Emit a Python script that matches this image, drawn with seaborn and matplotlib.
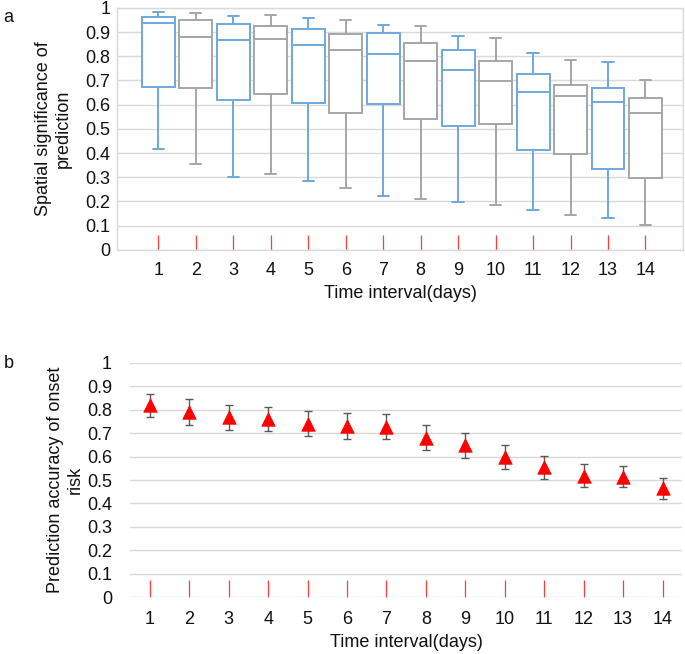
import numpy as np
import pandas as pd
import matplotlib
matplotlib.use("Agg")
import matplotlib.pyplot as plt
import seaborn as sns

sns.set_theme(style="white")
plt.rcParams['font.family'] = ['Liberation Sans', 'DejaVu Sans']
plt.rcParams['text.color'] = '#111111'
plt.rcParams['axes.labelcolor'] = '#111111'
plt.rcParams['xtick.labelcolor'] = '#111111'
plt.rcParams['ytick.labelcolor'] = '#111111'

# ===================== data =====================
days = [str(d) for d in range(1, 15)]

# panel a: five-number summaries per interval (whisker low, Q1, median, Q3, whisker high)
low_a = [0.418, 0.356, 0.300, 0.312, 0.284, 0.256, 0.223, 0.208, 0.196, 0.184, 0.163, 0.144, 0.130, 0.103]
q1_a = [0.674, 0.667, 0.619, 0.642, 0.607, 0.566, 0.601, 0.542, 0.510, 0.522, 0.414, 0.397, 0.332, 0.295]
med_a = [0.936, 0.881, 0.867, 0.873, 0.848, 0.827, 0.808, 0.779, 0.744, 0.697, 0.652, 0.634, 0.610, 0.566]
q3_a = [0.962, 0.949, 0.932, 0.925, 0.911, 0.893, 0.895, 0.855, 0.826, 0.782, 0.726, 0.682, 0.670, 0.626]
high_a = [0.984, 0.979, 0.968, 0.971, 0.956, 0.951, 0.929, 0.925, 0.885, 0.877, 0.815, 0.784, 0.775, 0.701]

# panel b: mean accuracy and error
mean_b = [0.820, 0.790, 0.768, 0.762, 0.741, 0.731, 0.728, 0.681, 0.648, 0.598, 0.555, 0.519, 0.515, 0.465]
err_b = [0.049, 0.054, 0.054, 0.052, 0.053, 0.054, 0.052, 0.052, 0.052, 0.052, 0.049, 0.048, 0.046, 0.045]

BLUE = '#6fa8dc'
GREY = '#a6a6a6'
GRID = '#d9d9d9'
TICK_RED = '#ff3b3b'
FS = 13

# long-form table: 5 points per box -> quartiles come out exactly
rows = []
for i, d in enumerate(days):
    for v in (low_a[i], q1_a[i], med_a[i], q3_a[i], high_a[i]):
        rows.append({"day": d, "value": v, "odd": i % 2 == 0})
df_a = pd.DataFrame(rows)

df_b = pd.DataFrame({"day": np.arange(1, 15), "mean": mean_b, "err": err_b})

fig = plt.figure(figsize=(6.85, 6.54), dpi=100)
ax_a = fig.add_axes([0.171, 0.618, 0.826, 0.370])
ax_b = fig.add_axes([0.190, 0.087, 0.806, 0.358])

yticklabels = ["0", "0.1", "0.2", "0.3", "0.4", "0.5", "0.6", "0.7", "0.8", "0.9", "1"]

# ===================== panel a =====================
for is_odd, col in ((True, BLUE), (False, GREY)):
    sns.boxplot(data=df_a[df_a["odd"] == is_odd], x="day", y="value", order=days,
                color="white", linecolor=col, linewidth=1.4, width=0.88,
                whis=(0, 100), showfliers=False, capwidths=0.3, ax=ax_a)

ax_a.set_axisbelow(True)
ax_a.yaxis.grid(True, color=GRID, lw=1)
ax_a.set_ylim(0, 1)
ax_a.set_xlim(-1.1, 14.0)
ax_a.set_yticks(np.arange(0, 1.01, 0.1))
ax_a.set_yticklabels(yticklabels)
for sp in ax_a.spines.values():
    sp.set_color(GRID)
    sp.set_linewidth(1)
ax_a.tick_params(axis='x', bottom=True, direction='in', length=11, width=0.9,
                 color=TICK_RED, pad=9, labelsize=FS)
ax_a.tick_params(axis='y', length=0, pad=5, labelsize=FS)
ax_a.set_xlabel("Time interval(days)", fontsize=FS, labelpad=4)
ax_a.set_ylabel("Spatial significance of\nprediction", fontsize=FS, va='center')
ax_a.yaxis.set_label_coords(-0.113, 0.5)

# ===================== panel b =====================
ax_b.errorbar(df_b["day"], df_b["mean"], yerr=df_b["err"], fmt='none',
              ecolor='#595959', elinewidth=1, capsize=3, capthick=1, zorder=2)
sns.scatterplot(data=df_b, x="day", y="mean", marker="^", color="red",
                s=95, edgecolor="red", linewidth=0.5, zorder=3, ax=ax_b)

ax_b.set_axisbelow(True)
ax_b.yaxis.grid(True, color=GRID, lw=1)
ax_b.set_ylim(0, 1)
ax_b.set_xlim(0.5, 14.5)
ax_b.set_xticks(np.arange(1, 15))
ax_b.set_yticks(np.arange(0, 1.01, 0.1))
ax_b.set_yticklabels(yticklabels)
sns.despine(ax=ax_b, left=True, bottom=True)
ax_b.tick_params(axis='x', bottom=True, direction='in', length=12, width=0.9,
                 color=TICK_RED, pad=10, labelsize=FS)
ax_b.tick_params(axis='y', length=0, pad=13, labelsize=FS)
ax_b.set_xlabel("Time interval(days)", fontsize=FS, labelpad=4)
ax_b.set_ylabel("Prediction accuracy of onset\nrisk", fontsize=FS, va='center')
ax_b.yaxis.set_label_coords(-0.118, 0.5)

fig.text(0.005, 0.987, "a", fontsize=FS, va='top')
fig.text(0.005, 0.457, "b", fontsize=FS, va='top')

fig.savefig("out.png", dpi=100)
